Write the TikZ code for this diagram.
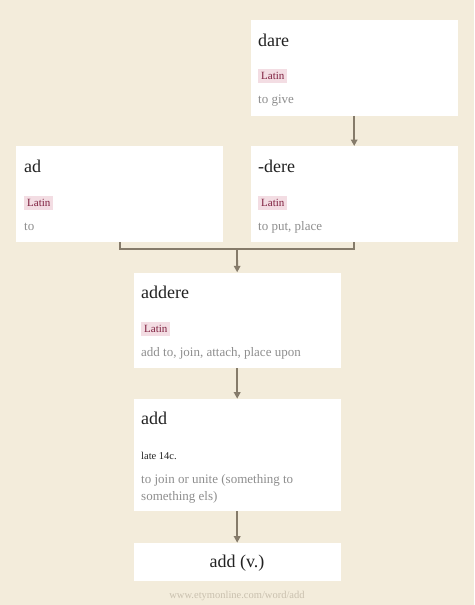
\documentclass[tikz,border=0pt]{standalone}
\usepackage{fontspec}
\setmainfont{Liberation Serif}
\usetikzlibrary{arrows.meta}
\definecolor{bgc}{HTML}{F3ECDB}
\definecolor{linec}{HTML}{857B6A}
\definecolor{tagbg}{HTML}{F3DDE3}
\definecolor{tagfg}{HTML}{7E1F3E}
\definecolor{glossc}{HTML}{8E8E8E}
\definecolor{titlec}{HTML}{222222}
\definecolor{footc}{HTML}{C9C0AE}
\tikzset{
  card/.style={fill=white, draw=none, rectangle, anchor=north west, inner sep=0pt, minimum width=207pt},
  title/.style={anchor=base west, inner sep=0pt, text=titlec, font=\fontsize{18}{21}\selectfont},
  tag/.style={anchor=west, fill=tagbg, text=tagfg, inner xsep=3pt, inner ysep=0pt, minimum height=14.5pt, font=\fontsize{11}{13}\selectfont},
  gloss/.style={anchor=base west, inner sep=0pt, text=glossc, font=\fontsize{13}{17.5}\selectfont},
  date/.style={anchor=base west, inner sep=0pt, text=titlec, font=\fontsize{10.5}{12}\selectfont},
  conn/.style={draw=linec, line width=1.8pt},
  arr/.style={conn, -{Triangle[length=6.5pt,width=6.5pt]}}
}
\begin{document}
\begin{tikzpicture}[x=1pt,y=-1pt]
\fill[bgc] (0,0) rectangle (474,605);
\useasboundingbox (0,0) rectangle (474,605);
% cards
\node[card, minimum height=96pt] (dare) at (250.5,19.5) {};
\node[card, minimum height=96pt] (ad) at (16,146) {};
\node[card, minimum height=96pt] (dere) at (250.5,146) {};
\node[card, minimum height=95.5pt] (addere) at (133.5,272.3) {};
\node[card, minimum height=112pt] (add) at (133.5,398.7) {};
\node[card, minimum height=38.5pt] (addv) at (133.5,542.7) {};
% dare
\node[title] (dareT) at (258,46) {dare};
\node[tag] (dareL) at (258,76) {Latin};
\node[gloss] (dareG) at (258,103) {to give};
% ad
\node[title] (adT) at (24,172.5) {ad};
\node[tag] (adL) at (24,203) {Latin};
\node[gloss] (adG) at (24,230) {to};
% -dere
\node[title] (dereT) at (258,172.5) {-dere};
\node[tag] (dereL) at (258,203) {Latin};
\node[gloss] (dereG) at (258,230) {to put, place};
% addere
\node[title] (addereT) at (141,298) {addere};
\node[tag] (addereL) at (141,329) {Latin};
\node[gloss] (addereG) at (141,356) {add to, join, attach, place upon};
% add
\node[title] (addT) at (141,424) {add};
\node[date] (addD) at (141,459) {late 14c.};
\node[gloss] (addG1) at (141,483) {to join or unite (something to};
\node[gloss] (addG2) at (141,500.5) {something els)};
% add (v.)
\node[anchor=base, inner sep=0pt, text=titlec, font=\fontsize{18}{21}\selectfont] (addvT) at (237,567) {add (v.)};
% footer
\node[anchor=base, inner sep=0pt, text=footc, font=\fontsize{10.5}{12}\selectfont] (foot) at (237,598) {www.etymonline.com/word/add};
% connectors
\coordinate (merge) at (237,248.7);
\draw[arr] (dare.south -| dere.north) -- (dere.north);
\draw[conn] (ad.south) |- (merge) -| (dere.south);
\draw[arr] (merge) -- (addere.north);
\draw[arr] (addere.south) -- (add.north);
\draw[arr] (add.south) -- (addv.north);
\end{tikzpicture}
\end{document}
